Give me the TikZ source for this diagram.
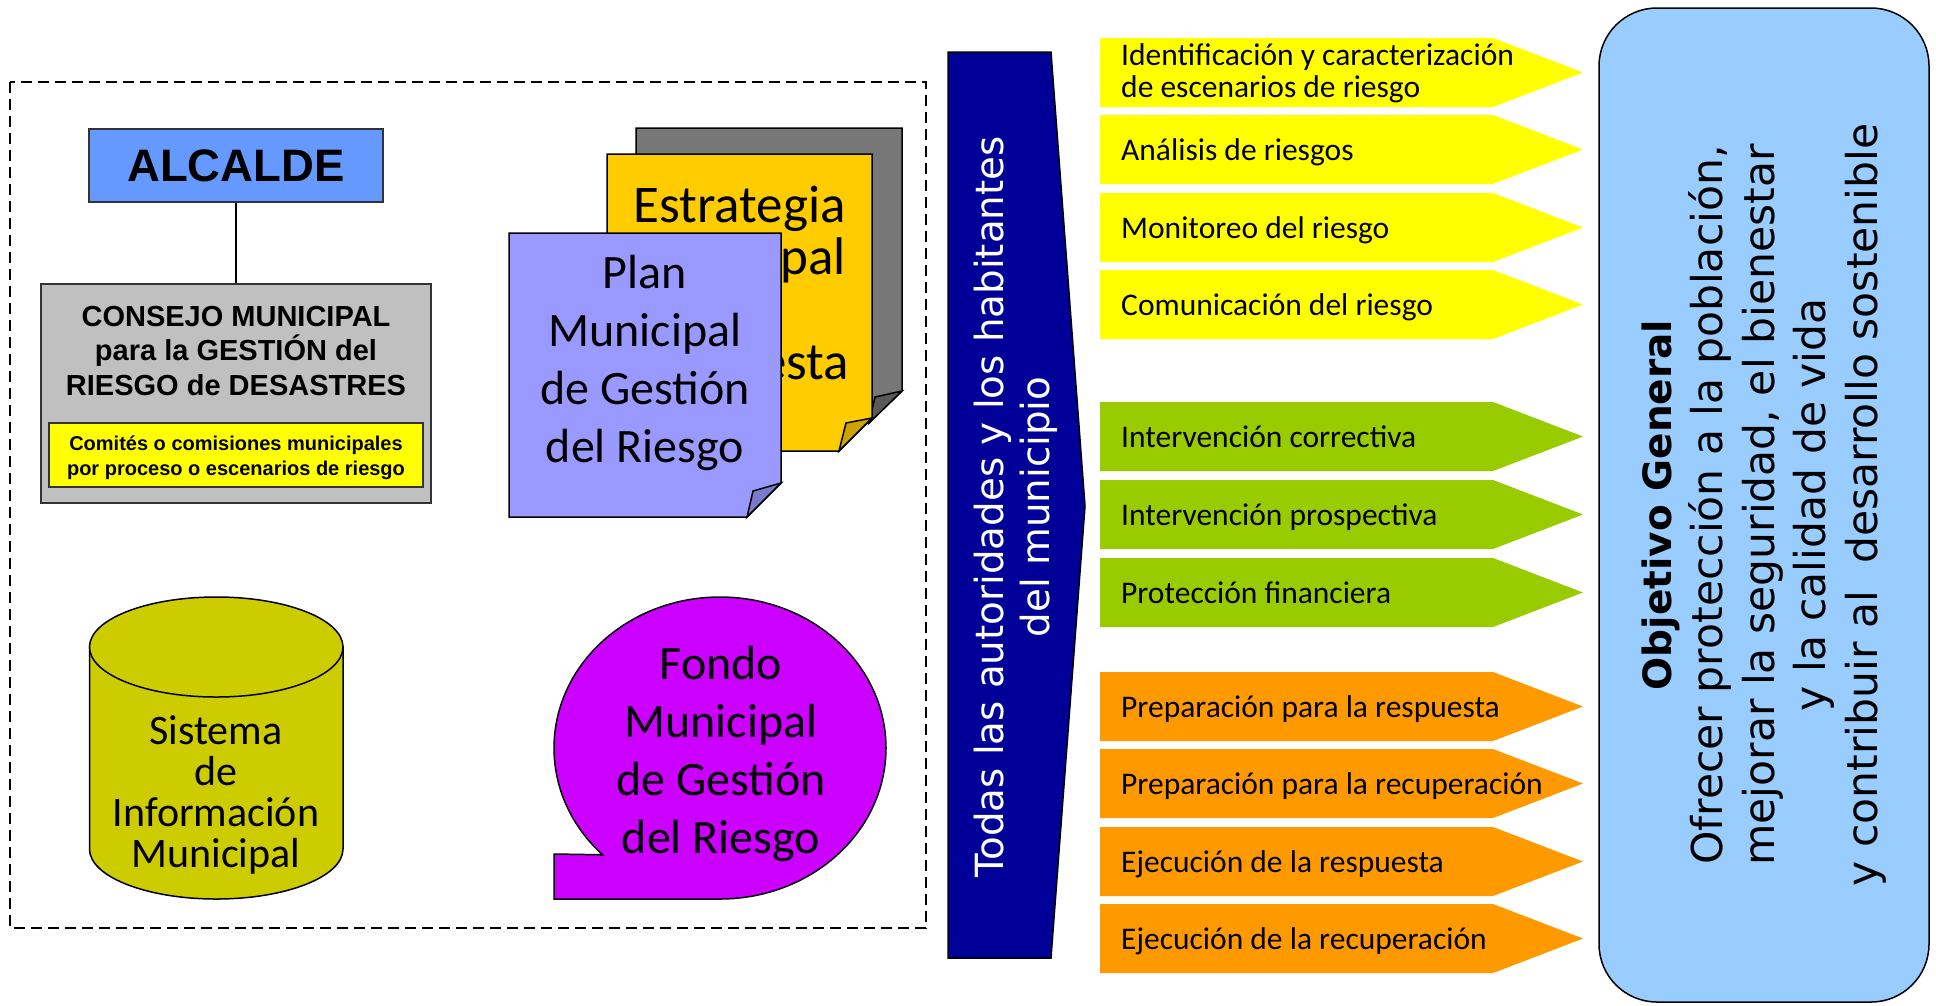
\documentclass[tikz,border=0pt]{standalone}
\usepackage{fontspec}
\setmainfont{Carlito}
\newfontfamily\arialfont{Liberation Sans}
\newfontfamily\verdanafont{DejaVu Sans}
\usepackage{tikz}

\definecolor{azulalcalde}{HTML}{6699FF}
\definecolor{grisconsejo}{HTML}{C0C0C0}
\definecolor{amarillo}{HTML}{FFFF00}
\definecolor{grisdoc}{HTML}{777777}
\definecolor{amarillodoc}{HTML}{FFCC00}
\definecolor{moradodoc}{HTML}{9999FF}
\definecolor{oliva}{HTML}{CCCC00}
\definecolor{magenta}{HTML}{CC00FF}
\definecolor{azulbarra}{HTML}{000099}
\definecolor{verde}{HTML}{99CC00}
\definecolor{naranja}{HTML}{FF9900}
\definecolor{celeste}{HTML}{99CCFF}

\begin{document}
\begin{tikzpicture}[x=1pt, y=-1pt,
	caja/.style={draw=black!80, line width=1.4pt, inner sep=0pt},
	doctexto/.style={align=center, inner sep=0pt},
	etiqueta/.style={anchor=west, inner sep=0pt, font=\fontsize{31.5}{32}\selectfont, text height=26pt, text depth=4pt}]
		\def\mylinewidth{1.5pt}
		\useasboundingbox (0,0) rectangle (1936,1005);
		%--------------------

		\draw[dash pattern=on 11pt off 6pt, line width=2.2pt] (10,82) rectangle (926,928);

		\node[caja, fill=azulalcalde, minimum width=294pt, minimum height=73pt, font=\arialfont\bfseries\fontsize{45.5}{54}\selectfont] (alcalde) at (236,165.5) {ALCALDE};
		\node[caja, fill=grisconsejo, minimum width=390pt, minimum height=219pt] (consejo) at (236,393.5) {};
		\draw[line width=\mylinewidth] (alcalde) -- (consejo);
		\node[align=center, font=\arialfont\bfseries\fontsize{29}{34.5}\selectfont] (consejotexto) at (236,351) {CONSEJO MUNICIPAL\\para la GESTIÓN del\\RIESGO de DESASTRES};
		\node[caja, fill=amarillo, minimum width=374pt, minimum height=64pt] (comites) at (236,455) {};
		\node[align=center, font=\arialfont\bfseries\fontsize{20}{25}\selectfont] (comitestexto) at (236,457.5) {Comités o comisiones municipales\\por proceso o escenarios de riesgo};

		%--------------------
		\filldraw[fill=grisdoc, line width=\mylinewidth] (636,128) -- (902,128) -- (902,391) -- (869,423) -- (636,423) -- cycle;
		\filldraw[fill=grisdoc!75!black, line width=\mylinewidth] (902,391) -- (875,397) -- (869,423) -- cycle;

		\filldraw[fill=amarillodoc, line width=\mylinewidth] (607,154) -- (872,154) -- (872,418) -- (839,451) -- (607,451) -- cycle;
		\filldraw[fill=amarillodoc!80!black, line width=\mylinewidth] (872,418) -- (846,423) -- (839,451) -- cycle;
		\node[doctexto, font=\fontsize{53}{52.5}\selectfont] (estrategia) at (739.5,287) {Estrategia\\Municipal\\de\\Respuesta};

		\filldraw[fill=moradodoc, line width=\mylinewidth] (509,233) -- (781,233) -- (781,483) -- (747,517) -- (509,517) -- cycle;
		\filldraw[fill=moradodoc!80!black, line width=\mylinewidth] (781,483) -- (753,491) -- (747,517) -- cycle;
		\node[doctexto, font=\fontsize{48}{58}\selectfont] (plan) at (645,363) {Plan\\Municipal\\de Gestión\\del Riesgo};

		%--------------------
		\filldraw[fill=oliva, line width=\mylinewidth] (89.5,647) -- (89.5,849) arc[start angle=180, end angle=0, x radius=126.75, y radius=50] -- (343,647) -- cycle;
		\filldraw[fill=oliva, line width=\mylinewidth] (216.25,647) ellipse [x radius=126.75, y radius=50];
		\node[doctexto, font=\fontsize{42}{41}\selectfont] (sistema) at (216,795) {Sistema\\de\\Información\\Municipal};

		\filldraw[fill=magenta, line width=\mylinewidth] (720,748) ++(135:166 and 151) arc[start angle=135, end angle=450, x radius=166, y radius=151] -- (554,899) -- (554,854) -- cycle;
		\node[doctexto, font=\fontsize{48}{58}\selectfont] (fondo) at (721,753.5) {Fondo\\Municipal\\de Gestión\\del Riesgo};

		%--------------------
		\filldraw[fill=azulbarra, line width=\mylinewidth] (948,52) -- (1051,52) -- (1085,506) -- (1051,958) -- (948,958) -- cycle;
		\node[rotate=90, align=center, text=white, font=\verdanafont\fontsize{38.8}{46}\selectfont] (todas) at (1016,507) {Todas las autoridades y los habitantes\\del municipio};

		%--------------------
		\fill[amarillo] (1100,38) -- (1493,38) -- (1583,72.5) -- (1493,107) -- (1100,107) -- cycle;
		\node[anchor=west, inner sep=0pt, align=left, font=\fontsize{31.5}{32}\selectfont] (identificacion) at (1121,73) {Identificación y caracterización\\de escenarios de riesgo};
		\fill[amarillo] (1100,115) -- (1493,115) -- (1583,149.5) -- (1493,184) -- (1100,184) -- cycle;
		\node[etiqueta] (analisis) at (1121,149.5) {Análisis de riesgos};
		\fill[amarillo] (1100,193) -- (1493,193) -- (1583,227.5) -- (1493,262) -- (1100,262) -- cycle;
		\node[etiqueta] (monitoreo) at (1121,227.5) {Monitoreo del riesgo};
		\fill[amarillo] (1100,270) -- (1493,270) -- (1583,304.5) -- (1493,339) -- (1100,339) -- cycle;
		\node[etiqueta] (comunicacion) at (1121,304.5) {Comunicación del riesgo};

		\fill[verde] (1100,402) -- (1493,402) -- (1583,436.5) -- (1493,471) -- (1100,471) -- cycle;
		\node[etiqueta] (correctiva) at (1121,436.5) {Intervención correctiva};
		\fill[verde] (1100,480) -- (1493,480) -- (1583,514.5) -- (1493,549) -- (1100,549) -- cycle;
		\node[etiqueta] (prospectiva) at (1121,514.5) {Intervención prospectiva};
		\fill[verde] (1100,558) -- (1493,558) -- (1583,592.5) -- (1493,627) -- (1100,627) -- cycle;
		\node[etiqueta] (financiera) at (1121,592.5) {Protección financiera};

		\fill[naranja] (1100,672) -- (1493,672) -- (1583,706.5) -- (1493,741) -- (1100,741) -- cycle;
		\node[etiqueta] (prepresp) at (1121,706.5) {Preparación para la respuesta};
		\fill[naranja] (1100,749) -- (1493,749) -- (1583,783.5) -- (1493,818) -- (1100,818) -- cycle;
		\node[etiqueta] (preprecup) at (1121,783.5) {Preparación para la recuperación};
		\fill[naranja] (1100,827) -- (1493,827) -- (1583,861.5) -- (1493,896) -- (1100,896) -- cycle;
		\node[etiqueta] (ejecresp) at (1121,861.5) {Ejecución de la respuesta};
		\fill[naranja] (1100,904) -- (1493,904) -- (1583,938.5) -- (1493,973) -- (1100,973) -- cycle;
		\node[etiqueta] (ejecrecup) at (1121,938.5) {Ejecución de la recuperación};

		%--------------------
		\node[rotate=90, draw=black, line width=\mylinewidth, fill=celeste, rounded corners=58pt, minimum width=994pt, minimum height=330pt, align=center, font=\verdanafont\fontsize{42.5}{51.5}\selectfont] (objetivo) at (1764,505) {{\bfseries\fontsize{39}{51.5}\selectfont Objetivo General}\\Ofrecer protección a la población,\\mejorar la seguridad, el bienestar\\y la calidad de vida\\y contribuir al\ \ desarrollo sostenible};
\end{tikzpicture}
\end{document}
